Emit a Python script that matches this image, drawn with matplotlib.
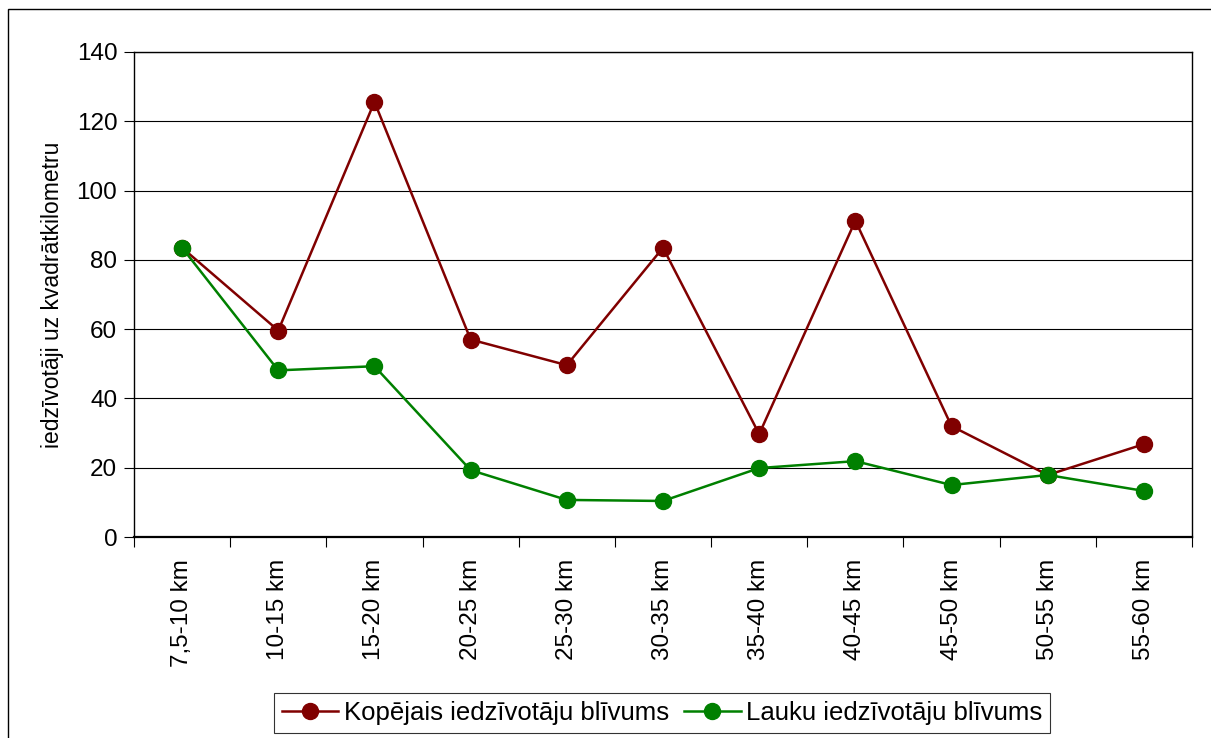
import numpy as np
import matplotlib.pyplot as plt
from matplotlib.patches import Rectangle

plt.rcParams['font.family'] = ['Liberation Sans', 'DejaVu Sans']

categories = ['7,5-10 km', '10-15 km', '15-20 km', '20-25 km', '25-30 km', '30-35 km',
              '35-40 km', '40-45 km', '45-50 km', '50-55 km', '55-60 km']
kopejais = [83.5, 59.6, 125.6, 57.0, 49.6, 83.5, 29.7, 91.3, 32.0, 17.9, 26.8]
lauku = [83.5, 48.1, 49.3, 19.3, 10.7, 10.4, 19.9, 21.9, 15.0, 17.9, 13.3]

W, H = 1211, 738
fig = plt.figure(figsize=(W / 100, H / 100), dpi=100)
ax = fig.add_axes([134 / W, 1 - 537 / H, (1192 - 134) / W, (537 - 52) / H])

x = np.arange(len(categories))
ax.plot(x, kopejais, color='#800000', lw=1.8, marker='o', ms=11.5,
        label='Kopējais iedzīvotāju blīvums', zorder=3)
ax.plot(x, lauku, color='#008000', lw=1.8, marker='o', ms=11.5,
        label='Lauku iedzīvotāju blīvums', zorder=4)

ax.set_xlim(-0.5, len(categories) - 0.5)
ax.set_ylim(0, 140)
ax.set_yticks(np.arange(0, 141, 20))
ax.yaxis.grid(True, color='black', lw=0.8)
ax.set_axisbelow(True)

ax.set_xticks(x)
ax.set_xticklabels(categories, rotation=90, fontsize=17.5)
ax.set_xticks(np.arange(-0.5, len(categories), 1), minor=True)
ax.tick_params(axis='x', which='major', length=0, pad=16)
ax.tick_params(axis='x', which='minor', length=7, width=0.8)
ax.tick_params(axis='y', labelsize=17.5, length=7, width=0.8, pad=5)

for s in ax.spines.values():
    s.set_color('black')
    s.set_linewidth(1.0)
ax.spines['bottom'].set_linewidth(1.6)

ax.set_ylabel('iedzīvotāji uz kvadrātkilometru', fontsize=16.5, labelpad=9)

leg = fig.legend(loc='center', bbox_to_anchor=(662 / W, 1 - 713 / H), ncol=2,
                 fontsize=18.5, frameon=True, fancybox=False, edgecolor='black',
                 handlelength=2.2, handletextpad=0.2, columnspacing=0.6,
                 borderpad=0.3)
leg.get_frame().set_linewidth(0.8)

fig.patches.append(Rectangle((8 / W, -0.1), 1.2, 1 - 9 / H + 0.1,
                             transform=fig.transFigure, fill=False,
                             edgecolor='black', lw=1.0))

fig.savefig('out.png', dpi=100)
